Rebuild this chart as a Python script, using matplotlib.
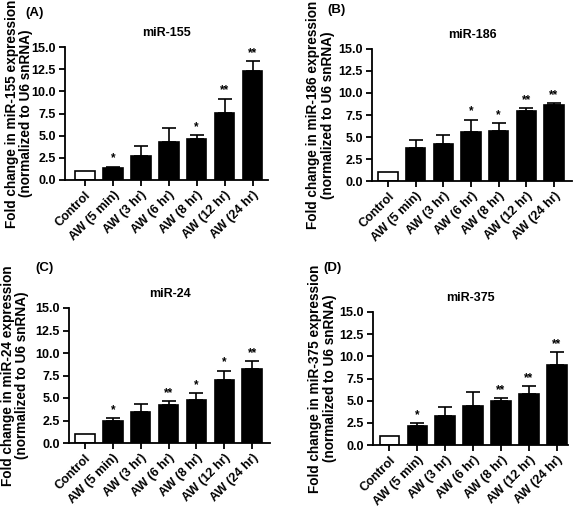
import numpy as np
import matplotlib.pyplot as plt

plt.rcParams['font.family'] = ['Liberation Sans', 'DejaVu Sans']
plt.rcParams['font.weight'] = 'bold'

groups = ['Control', 'AW (5 min)', 'AW (3 hr)', 'AW (6 hr)', 'AW (8 hr)', 'AW (12 hr)', 'AW (24 hr)']

mir155_mean = [1.0, 1.38, 2.68, 4.25, 4.65, 7.55, 12.3]
mir155_err = [0.0, 0.12, 1.15, 1.62, 0.38, 1.62, 1.1]
mir155_sig = ['', '*', '', '', '*', '**', '**']

mir186_mean = [1.0, 3.8, 4.25, 5.58, 5.7, 7.97, 8.6]
mir186_err = [0.0, 0.83, 1.02, 1.4, 0.87, 0.27, 0.25]
mir186_sig = ['', '', '', '*', '*', '**', '**']

mir24_mean = [1.0, 2.4, 3.5, 4.17, 4.8, 7.0, 8.22]
mir24_err = [0.0, 0.38, 0.85, 0.45, 0.75, 1.03, 0.9]
mir24_sig = ['', '*', '', '**', '*', '*', '**']

mir375_mean = [1.0, 2.19, 3.25, 4.38, 4.91, 5.78, 9.0]
mir375_err = [0.0, 0.27, 0.98, 1.55, 0.38, 0.87, 1.5]
mir375_sig = ['', '*', '', '', '**', '**', '**']

W, H = 574, 509
fig = plt.figure(figsize=(W / 100, H / 100), dpi=100)

# (label, title, means, errs, sig, axes box px (l, t, r, b), xlim, ylabel line x px, letter px)
panels = [
    ('(A)', 'miR-155', mir155_mean, mir155_err, mir155_sig, (65, 47, 268, 180), (-0.71, 6.55), (12, 26), (25, 13)),
    ('(B)', 'miR-186', mir186_mean, mir186_err, mir186_sig, (372, 49, 572, 181), (-0.58, 6.65), (313, 328), (327, 10)),
    ('(C)', 'miR-24', mir24_mean, mir24_err, mir24_sig, (69, 308, 270, 443), (-0.57, 6.64), (8, 22), (35, 268)),
    ('(D)', 'miR-375', mir375_mean, mir375_err, mir375_sig, (373, 312, 568, 445), (-0.59, 6.4), (315, 330), (323, 268)),
]

for letter, title, means, errs, sig, box, xl, ylx, lpos in panels:
    l, t, r, b = box
    ax = fig.add_axes([l / W, 1 - b / H, (r - l) / W, (b - t) / H])
    x = np.arange(len(groups))
    colors = ['white'] + ['black'] * (len(groups) - 1)
    ax.bar(x, means, width=0.7, color=colors, edgecolor='black', linewidth=1.2, zorder=2)
    ax.errorbar(x[1:], means[1:], yerr=[np.zeros(len(x) - 1), errs[1:]], fmt='none',
                ecolor='black', elinewidth=1.2, capsize=5, capthick=1.2, zorder=1)
    for xi, m, e, s in zip(x, means, errs, sig):
        if s:
            ax.text(xi, m + e + 0.25, s, ha='center', va='bottom', fontsize=8.5, fontweight='bold')
    ax.set_ylim(0, 15)
    ax.set_xlim(*xl)
    ax.set_yticks(np.arange(0, 15.1, 2.5))
    ax.set_yticklabels([f'{v:.1f}' for v in np.arange(0, 15.1, 2.5)], fontsize=9, fontweight='bold')
    ax.set_xticks(x)
    ax.set_xticklabels(groups, rotation=45, ha='right', va='top', rotation_mode='anchor',
                       fontsize=9, fontweight='bold')
    ax.spines['top'].set_visible(False)
    ax.spines['right'].set_visible(False)
    ax.spines['left'].set_linewidth(1.3)
    ax.spines['bottom'].set_linewidth(1.3)
    ax.tick_params(width=1.3, length=4, pad=2.5)
    ax.set_title(title, fontsize=9, fontweight='bold', pad=8)
    yc = 1 - (t + b) / 2 / H
    fig.text(ylx[0] / W, yc, 'Fold change in ' + title + ' expression',
             rotation=90, ha='center', va='center', fontsize=9.8, fontweight='bold')
    fig.text(ylx[1] / W, yc, '(normalized to U6 snRNA)',
             rotation=90, ha='center', va='center', fontsize=9.8, fontweight='bold')
    fig.text(lpos[0] / W, 1 - lpos[1] / H, letter, ha='left', va='center',
             fontsize=9.5, fontweight='bold')

fig.savefig('out.png', dpi=100)
